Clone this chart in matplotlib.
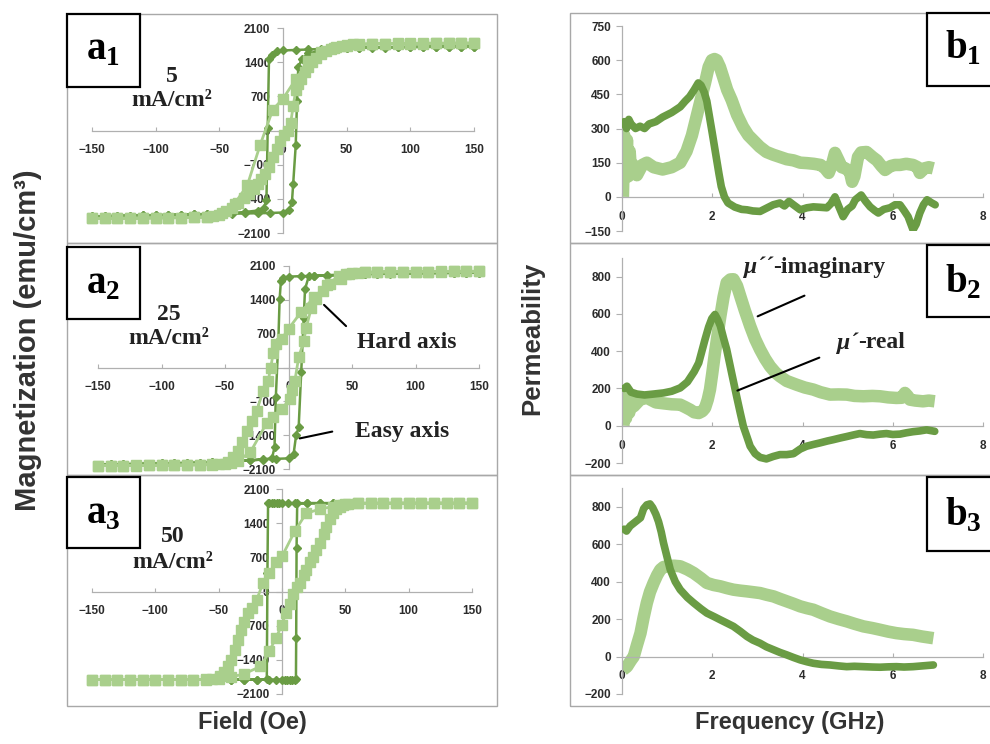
import matplotlib
matplotlib.use('Agg')
import matplotlib.pyplot as plt
from matplotlib.patches import Rectangle

plt.rcParams['font.family'] = ['Liberation Sans', 'DejaVu Sans']
plt.rcParams['mathtext.fontset'] = 'custom'
plt.rcParams['mathtext.rm'] = 'Liberation Serif'
plt.rcParams['mathtext.bf'] = 'Liberation Serif:bold'

DARK = '#6a9c44'
LIGHT = '#a9cf8c'
AXIS = '#b0b0b0'
TXT = '#2b2b2b'

# ---------------- hysteresis loops (Field in Oe, Magnetization in emu/cm3) ----------------
a1_easy_dn_h = [150, 140, 130, 120, 110, 100, 90, 80, 70, 60, 50, 40, 30, 20, 10, 0, -5, -9, -11, -12,
                -13, -15, -20, -30, -40, -50, -60, -70, -80, -90, -100, -110, -120, -130, -140, -150]
a1_easy_dn_m = [1720, 1720, 1715, 1715, 1710, 1710, 1705, 1700, 1700, 1695, 1690, 1680, 1670, 1660, 1650,
                1640, 1620, 1540, 1470, 60, -1430, -1580, -1640, -1670, -1690, -1700, -1710, -1720, -1725,
                -1730, -1735, -1740, -1745, -1750, -1755, -1760]
a1_easy_up_h = [-150, -140, -130, -120, -110, -100, -90, -80, -70, -60, -50, -40, -30, -20, -10, 0, 5, 7, 8,
                10, 11, 12, 15, 20, 30, 40, 50, 60, 70, 80, 90, 100, 110, 120, 130, 140, 150]
a1_easy_up_m = [-1760, -1755, -1750, -1745, -1740, -1735, -1730, -1725, -1720, -1715, -1710, -1705, -1700,
                -1695, -1690, -1680, -1620, -1475, -1090, -300, 600, 1300, 1475, 1580, 1640, 1670, 1690,
                1700, 1705, 1710, 1710, 1715, 1715, 1720, 1720, 1720, 1720]
a1_hard_dn_h = [150, 140, 130, 120, 110, 100, 90, 80, 70, 60, 50, 40, 30, 20, 10, 0, -8, -18, -28, -38, -48,
                -60, -70, -80, -90, -100, -110, -120, -130, -140, -150]
a1_hard_dn_m = [1790, 1790, 1785, 1785, 1780, 1780, 1780, 1775, 1770, 1760, 1740, 1700, 1600, 1420, 1050,
                650, 430, -300, -1120, -1500, -1700, -1770, -1780, -1785, -1790, -1790, -1795, -1795, -1800,
                -1800, -1800]
a1_hard_up_h = [-150, -140, -130, -120, -110, -100, -90, -80, -70, -60, -55, -50, -45, -40, -35, -31, -27,
                -23, -20, -17, -14, -11, -8, -5, -2, 1, 4, 6, 8, 10, 12, 14, 17, 20, 23, 26, 30, 34, 38, 42,
                46, 50, 55, 60, 70, 80, 90, 100, 110, 120, 130, 140, 150]
a1_hard_up_m = [-1800, -1800, -1800, -1795, -1795, -1790, -1790, -1785, -1780, -1770, -1760, -1730, -1650,
                -1580, -1480, -1390, -1300, -1200, -1100, -1000, -890, -750, -550, -380, -220, -100, 0, 150,
                500, 820, 950, 1050, 1190, 1300, 1400, 1480, 1560, 1620, 1670, 1710, 1740, 1760, 1770, 1775,
                1780, 1780, 1785, 1785, 1790, 1790, 1790, 1790, 1790]

a2_easy_dn_h = [150, 140, 130, 120, 110, 100, 90, 80, 70, 60, 50, 40, 30, 20, 10, 0, -4, -6, -7, -8, -10,
                -11, -13, -20, -30, -40, -50, -60, -70, -80, -90, -100, -110, -120, -130, -140, -150]
a2_easy_dn_m = [1960, 1960, 1955, 1955, 1950, 1950, 1945, 1940, 1935, 1930, 1920, 1910, 1900, 1895, 1890,
                1880, 1860, 1780, 1410, 550, -620, -1650, -1880, -1900, -1920, -1935, -1950, -1960, -1970,
                -1975, -1980, -1985, -1990, -1995, -2000, -2005, -2010]
a2_easy_up_h = [-150, -140, -130, -120, -110, -100, -90, -80, -70, -60, -50, -40, -30, -20, -10, 0, 4, 6, 8,
                10, 12, 13, 16, 20, 30, 40, 50, 60, 70, 80, 90, 100, 110, 120, 130, 140, 150]
a2_easy_up_m = [-2010, -2005, -2000, -1995, -1990, -1985, -1980, -1975, -1970, -1960, -1950, -1935, -1920,
                -1905, -1890, -1880, -1790, -1400, -1240, -100, 1030, 1620, 1890, 1900, 1910, 1920, 1930,
                1935, 1940, 1945, 1950, 1950, 1955, 1955, 1960, 1960, 1960]
a2_hard_dn_h = [150, 140, 130, 120, 110, 100, 90, 80, 70, 60, 50, 45, 40, 30, 20, 10, 0, -5, -10, -12, -14,
                -16, -20, -25, -29, -33, -37, -40, -44, -48, -55, -60, -70, -80, -90, -100, -110, -120,
                -130, -140, -150]
a2_hard_dn_m = [1990, 1990, 1990, 1985, 1985, 1985, 1980, 1980, 1975, 1970, 1960, 1930, 1900, 1700, 1450,
                1150, 800, 600, 480, 300, 0, -275, -482, -895, -1100, -1308, -1550, -1721, -1850, -1962,
                -2000, -2010, -2015, -2020, -2020, -2025, -2025, -2030, -2030, -2030, -2030]
a2_hard_up_h = [-150, -140, -130, -120, -110, -100, -90, -80, -70, -60, -50, -45, -40, -30, -17, -12, -5, 1,
                3, 5, 8, 12, 14, 18, 22, 27, 33, 41, 48, 55, 60, 70, 80, 90, 100, 110, 120, 130, 140, 150]
a2_hard_up_m = [-2030, -2030, -2030, -2025, -2025, -2020, -2020, -2015, -2010, -2005, -1995, -1980, -1930,
                -1750, -1140, -1030, -850, -654, -470, -275, 207, 551, 826, 1239, 1411, 1584, 1721, 1824,
                1928, 1960, 1970, 1975, 1980, 1980, 1985, 1985, 1990, 1990, 1990, 1990]

a3_easy_dn_h = [150, 140, 130, 120, 110, 100, 90, 80, 70, 60, 50, 40, 30, 20, 10, 5, 0, -2, -4, -6, -8, -10,
                -11, -11.5, -12, -20, -30, -40, -50, -60, -70, -80, -90, -100, -110, -120, -130, -140, -150]
a3_easy_dn_m = [1810, 1810, 1810, 1810, 1810, 1810, 1810, 1810, 1810, 1810, 1810, 1810, 1810, 1810, 1810,
                1810, 1810, 1810, 1810, 1810, 1810, 1810, 1805, 375, -1800, -1805, -1805, -1805, -1805,
                -1805, -1805, -1805, -1805, -1805, -1805, -1805, -1805, -1805, -1805]
a3_easy_up_h = [-150, -140, -130, -120, -110, -100, -90, -80, -70, -60, -50, -40, -30, -20, -10, -5, 0, 2, 4,
                6, 8, 10, 11, 11.2, 11.5, 12, 20, 30, 40, 50, 60, 70, 80, 90, 100, 110, 120, 130, 140, 150]
a3_easy_up_m = [-1805, -1805, -1805, -1805, -1805, -1805, -1805, -1805, -1805, -1805, -1805, -1805, -1805,
                -1805, -1805, -1805, -1805, -1805, -1805, -1805, -1805, -1805, -1800, -955, 886, 1805, 1810,
                1810, 1810, 1810, 1810, 1810, 1810, 1810, 1810, 1810, 1810, 1810, 1810, 1810]
a3_hard_dn_h = [150, 140, 130, 120, 110, 100, 90, 80, 70, 60, 50, 45, 40, 30, 19, 10, 0, -5, -10, -15, -20,
                -24, -27, -30, -32, -35, -37, -40, -43, -46, -49, -55, -60, -70, -80, -90, -100, -110, -120,
                -130, -140, -150]
a3_hard_dn_m = [1810, 1810, 1810, 1810, 1810, 1810, 1810, 1805, 1805, 1805, 1800, 1770, 1740, 1690, 1600,
                1230, 720, 600, 375, 170, -170, -330, -443, -620, -784, -1000, -1193, -1400, -1534, -1650,
                -1740, -1790, -1800, -1805, -1805, -1805, -1805, -1805, -1805, -1805, -1805, -1805]
a3_hard_up_h = [-150, -140, -130, -120, -110, -100, -90, -80, -70, -60, -50, -40, -30, -17, -10, -5, 0, 3, 6,
                9, 12, 14, 17, 19, 22, 24.5, 27, 30, 33, 35, 38, 40, 43, 45.5, 48, 52, 60, 70, 80, 90, 100,
                110, 120, 130, 140, 150]
a3_hard_up_m = [-1805, -1805, -1805, -1805, -1805, -1805, -1805, -1805, -1805, -1805, -1790, -1750, -1690,
                -1534, -1227, -960, -682, -443, -250, -50, 100, 170, 330, 443, 600, 716, 850, 989, 1180,
                1330, 1480, 1602, 1690, 1739, 1780, 1800, 1805, 1810, 1810, 1810, 1810, 1810, 1810, 1810,
                1810, 1810]

# ---------------- permeability spectra (GHz) ----------------
b1_real_f = [0.05, 0.1, 0.15, 0.2, 0.3, 0.4, 0.5, 0.6, 0.75, 0.9, 1.1, 1.29, 1.4, 1.5, 1.6, 1.69, 1.75, 1.82,
             1.88, 1.94, 2.0, 2.05, 2.1, 2.15, 2.2, 2.27, 2.35, 2.5, 2.65, 2.77, 2.9, 3.06, 3.2, 3.35, 3.5,
             3.6, 3.7, 3.8, 3.95, 4.1, 4.24, 4.4, 4.54, 4.63, 4.72, 4.8, 4.9, 5.0, 5.1, 5.17, 5.3, 5.4, 5.5,
             5.6, 5.68, 5.8, 5.94, 6.05, 6.16, 6.25, 6.34, 6.45, 6.52, 6.6, 6.68, 6.76, 6.85, 6.94]
b1_real = [330, 300, 340, 320, 300, 310, 300, 320, 330, 350, 370, 395, 420, 440, 470, 500, 490, 460, 420, 350,
           280, 220, 160, 100, 45, 0, -27, -45, -55, -57, -62, -64, -50, -35, -27, -40, -20, -35, -57, -48,
           -44, -46, -48, -30, 0, -40, -87, -55, -40, -13, 8, -20, -44, -60, -71, -55, -48, -35, -35, -60,
           -87, -145, -120, -71, -35, -13, -25, -35]
b1_imag_f = [0.02, 0.05, 0.08, 0.11, 0.14, 0.17, 0.2, 0.25, 0.33, 0.45, 0.55, 0.7, 0.9, 1.1, 1.29, 1.43, 1.55,
             1.65, 1.75, 1.84, 1.92, 1.99, 2.05, 2.1, 2.17, 2.24, 2.33, 2.43, 2.55, 2.68, 2.8, 2.9, 3.05, 3.2,
             3.35, 3.5, 3.65, 3.8, 3.95, 4.1, 4.25, 4.4, 4.5, 4.58, 4.65, 4.72, 4.8, 4.87, 4.95, 5.05, 5.1,
             5.15, 5.23, 5.3, 5.42, 5.55, 5.65, 5.75, 5.83, 5.95, 6.05, 6.16, 6.3, 6.45, 6.55, 6.6, 6.7, 6.8,
             6.9]
b1_imag = [0, 270, 120, 250, 90, 200, 110, 140, 95, 140, 150, 130, 120, 130, 150, 200, 270, 350, 430, 500,
           570, 600, 605, 600, 570, 527, 470, 425, 360, 307, 270, 250, 220, 197, 185, 175, 165, 160, 150, 148,
           145, 140, 125, 105, 140, 193, 160, 130, 125, 110, 66, 90, 175, 195, 197, 175, 160, 135, 118, 135,
           140, 140, 145, 140, 130, 105, 125, 130, 125]

b2_real_f = [0.05, 0.11, 0.2, 0.33, 0.5, 0.7, 0.92, 1.1, 1.29, 1.45, 1.6, 1.7, 1.84, 1.92, 1.99, 2.06, 2.12,
             2.18, 2.25, 2.32, 2.43, 2.54, 2.62, 2.69, 2.77, 2.84, 2.95, 3.06, 3.2, 3.35, 3.5, 3.65, 3.8, 3.95,
             4.09, 4.25, 4.39, 4.55, 4.68, 4.85, 4.98, 5.12, 5.27, 5.42, 5.57, 5.72, 5.86, 6.0, 6.16, 6.3,
             6.45, 6.6, 6.75, 6.93]
b2_real = [200, 212, 180, 170, 165, 170, 176, 185, 203, 235, 290, 337, 463, 530, 575, 597, 570, 535, 470, 409,
           283, 158, 70, -4, -60, -110, -150, -170, -178, -165, -155, -155, -150, -125, -110, -100, -92, -82,
           -75, -65, -58, -50, -42, -48, -50, -45, -42, -47, -45, -38, -32, -28, -22, -30]
b2_imag_f = [0.03, 0.06, 0.09, 0.12, 0.16, 0.2, 0.26, 0.4, 0.55, 0.75, 0.92, 1.1, 1.29, 1.4, 1.51, 1.6, 1.7,
             1.78, 1.84, 1.9, 1.95, 2.0, 2.06, 2.12, 2.18, 2.25, 2.32, 2.4, 2.47, 2.55, 2.62, 2.72, 2.84, 2.95,
             3.06, 3.17, 3.28, 3.4, 3.5, 3.65, 3.87, 4.05, 4.24, 4.4, 4.61, 4.8, 4.98, 5.15, 5.35, 5.55, 5.72,
             5.9, 6.08, 6.2, 6.27, 6.33, 6.38, 6.5, 6.67, 6.8, 6.93]
b2_imag = [0, 160, 40, 150, 70, 130, 104, 140, 150, 125, 120, 115, 113, 100, 86, 72, 68, 78, 95, 140, 194, 280,
           391, 490, 588, 690, 768, 785, 786, 750, 696, 620, 535, 465, 409, 360, 319, 285, 265, 240, 220, 205,
           194, 180, 167, 168, 167, 160, 158, 160, 158, 152, 149, 150, 176, 160, 140, 135, 131, 135, 131]

b3_real_f = [0.05, 0.1, 0.18, 0.3, 0.41, 0.48, 0.55, 0.62, 0.68, 0.75, 0.81, 0.87, 0.92, 1.0, 1.07, 1.18, 1.29,
             1.45, 1.59, 1.75, 1.88, 2.05, 2.18, 2.33, 2.47, 2.62, 2.77, 2.9, 3.06, 3.2, 3.36, 3.5, 3.65, 3.8,
             3.95, 4.1, 4.24, 4.42, 4.61, 4.8, 4.98, 5.15, 5.35, 5.55, 5.72, 5.9, 6.08, 6.25, 6.45, 6.65, 6.9]
b3_real = [680, 670, 697, 720, 741, 790, 810, 815, 795, 760, 720, 665, 607, 530, 464, 400, 357, 315, 286, 255,
           232, 212, 196, 178, 161, 135, 107, 88, 71, 52, 36, 22, 9, -5, -18, -28, -36, -42, -45, -50, -54,
           -52, -54, -56, -57, -55, -54, -56, -54, -50, -45]
b3_imag_f = [0.02, 0.11, 0.2, 0.26, 0.33, 0.41, 0.48, 0.55, 0.62, 0.7, 0.78, 0.85, 0.92, 1.0, 1.15, 1.29, 1.45,
             1.59, 1.75, 1.88, 2.03, 2.18, 2.33, 2.47, 2.62, 2.77, 2.9, 3.06, 3.2, 3.36, 3.5, 3.65, 3.8, 3.95,
             4.1, 4.24, 4.42, 4.61, 4.8, 4.98, 5.15, 5.35, 5.55, 5.72, 5.9, 6.08, 6.25, 6.45, 6.65, 6.9]
b3_imag = [-71, -54, -20, 0, 60, 125, 210, 286, 345, 393, 435, 464, 478, 482, 485, 482, 465, 446, 418, 393, 382,
           375, 365, 357, 352, 348, 344, 339, 330, 321, 308, 295, 282, 268, 258, 250, 232, 214, 200, 188, 175,
           161, 152, 143, 133, 125, 120, 116, 107, 98]

field_ticks = [-150, -100, -50, 0, 50, 100, 150]
mag_ticks = [-2100, -1400, -700, 0, 700, 1400, 2100]
freq_ticks = [0, 2, 4, 6, 8]
b1_ticks = [-150, 0, 150, 300, 450, 600, 750]
b23_ticks = [-200, 0, 200, 400, 600, 800]
currents = ['5', '25', '50']

W, H = 990, 744
fig = plt.figure(figsize=(W / 100, H / 100), dpi=100)


def fx(px):
    return px / W


def fy(py):
    return 1 - py / H


def axes_px(x0, x1, y0, y1):
    return fig.add_axes([fx(x0), fy(y1), (x1 - x0) / W, (y1 - y0) / H])


def frame(x0, y0, x1, y1, color, lw, fill=False):
    fig.patches.append(Rectangle((fx(x0), fy(y1)), (x1 - x0) / W, (y1 - y0) / H,
                                 transform=fig.transFigure, fill=fill, facecolor='white',
                                 edgecolor=color, lw=lw, zorder=3))


def style(ax, xlim, ylim, xt, yt, ypad):
    ax.set_xlim(xlim)
    ax.set_ylim(ylim)
    ax.set_xticks(xt)
    ax.set_yticks(yt)
    ax.patch.set_visible(False)
    for s in ['top', 'right']:
        ax.spines[s].set_visible(False)
    ax.spines['left'].set_position(('data', 0))
    ax.spines['bottom'].set_position(('data', 0))
    for s in ['left', 'bottom']:
        ax.spines[s].set_color(AXIS)
        ax.spines[s].set_linewidth(0.9)
    ax.tick_params(axis='y', direction='out', length=4, color=AXIS, pad=ypad)
    ax.tick_params(axis='x', direction='in', length=3, color=AXIS, pad=10)
    for lab in ax.get_xticklabels() + ax.get_yticklabels():
        lab.set_fontsize(8.5)
        lab.set_fontweight('bold')
        lab.set_color(TXT)


# ---- left column: hysteresis loops ----
loops = [
    (a1_easy_dn_h + a1_easy_up_h, a1_easy_dn_m + a1_easy_up_m,
     a1_hard_dn_h + a1_hard_up_h, a1_hard_dn_m + a1_hard_up_m),
    (a2_easy_dn_h + a2_easy_up_h, a2_easy_dn_m + a2_easy_up_m,
     a2_hard_dn_h + a2_hard_up_h, a2_hard_dn_m + a2_hard_up_m),
    (a3_easy_dn_h + a3_easy_up_h, a3_easy_dn_m + a3_easy_up_m,
     a3_hard_dn_h + a3_hard_up_h, a3_hard_dn_m + a3_hard_up_m),
]
a_pos = [(92, 474, 28, 233), (98, 479, 266, 469), (92, 472, 489, 694)]
a_frames = [(14, 243), (243, 475), (475, 706)]
a_boxes = [(14, 87), (247, 319), (477, 548)]
a_label_y = [50, 284, 514]
cur_y = [(77, 101), (315, 339), (537, 562)]
cur_x = [172, 169, 173]

a_axes = []
for i, (eh, em, hh, hm) in enumerate(loops):
    ax = axes_px(*a_pos[i])
    ax.plot(eh, em, color=DARK, lw=1.8, marker='D', ms=4, mec=DARK, clip_on=False, zorder=3)
    ax.plot(hh, hm, color=LIGHT, lw=2, marker='s', ms=6.5, mec=LIGHT, clip_on=False, zorder=4)
    style(ax, (-150, 150), (-2100, 2100), field_ticks, mag_ticks, 5)
    a_axes.append(ax)
    frame(67, a_frames[i][0], 497, a_frames[i][1], '#a8a8a8', 1.0)
    frame(67, a_boxes[i][0], 140, a_boxes[i][1], 'black', 1.6, fill=True)
    fig.text(fx(103), fy(a_label_y[i]), r'$\mathbf{a}_\mathbf{%d}$' % (i + 1), fontsize=28,
             ha='center', va='center', zorder=5)
    fig.text(fx(cur_x[i]), fy(cur_y[i][0]), currents[i], family='Liberation Serif', fontweight='bold',
             fontsize=17, ha='center', va='center', color='#222222')
    fig.text(fx(cur_x[i]), fy(cur_y[i][1]), 'mA/cm²', family='Liberation Serif', fontweight='bold',
             fontsize=17, ha='center', va='center', color='#222222')

ax2 = a_axes[1]
ax2.annotate('', xy=(26.4, 1335), xytext=(46.9, 817),
             arrowprops=dict(arrowstyle='-', color='black', lw=1.5))
ax2.annotate('', xy=(6.7, -1479), xytext=(36.6, -1314),
             arrowprops=dict(arrowstyle='-', color='black', lw=1.5))
fig.text(fx(407), fy(343), 'Hard axis', family='Liberation Serif', fontweight='bold', fontsize=17,
         ha='center', va='center', color='#222222')
fig.text(fx(402), fy(431), 'Easy axis', family='Liberation Serif', fontweight='bold', fontsize=17,
         ha='center', va='center', color='#222222')

# ---- right column: permeability spectra ----
spectra = [(b1_real_f, b1_real, b1_imag_f, b1_imag), (b2_real_f, b2_real, b2_imag_f, b2_imag),
           (b3_real_f, b3_real, b3_imag_f, b3_imag)]
b_pos = [(622, 983, 26, 231), (622, 983, 258, 463), (622, 983, 488, 694)]
b_lims = [(-150, 750), (-200, 900), (-200, 900)]
b_ticks = [b1_ticks, b23_ticks, b23_ticks]
b_frames = [(13, 243), (243, 475), (475, 706)]
b_boxes = [(13, 86), (245, 317), (477, 551)]
b_label_y = [48, 282, 515]

b_axes = []
for i, (rf, rv, jf, jv) in enumerate(spectra):
    ax = axes_px(*b_pos[i])
    ax.plot(rf, rv, color=DARK, lw=5.5, solid_joinstyle='round', solid_capstyle='round', zorder=3)
    ax.plot(jf, jv, color=LIGHT, lw=9, solid_joinstyle='round', solid_capstyle='butt', zorder=2)
    style(ax, (0, 8), b_lims[i], freq_ticks, b_ticks[i], 4)
    b_axes.append(ax)
    frame(570, b_frames[i][0], 1000, b_frames[i][1], '#a8a8a8', 1.0)
    frame(927, b_boxes[i][0], 1000, b_boxes[i][1], 'black', 1.6, fill=True)
    fig.text(fx(963), fy(b_label_y[i]), r'$\mathbf{b}_\mathbf{%d}$' % (i + 1), fontsize=28,
             ha='center', va='center', zorder=5)

bx = b_axes[1]
bx.annotate('', xy=(2.95, 581), xytext=(4.10, 704), arrowprops=dict(arrowstyle='-', color='black', lw=1.5))
bx.annotate('', xy=(2.50, 183), xytext=(4.43, 371), arrowprops=dict(arrowstyle='-', color='black', lw=1.5))
fig.text(fx(773), fy(267), 'μ´´', family='Liberation Serif', fontweight='bold', fontstyle='italic',
         fontsize=17, ha='right', va='center', color='#222222')
fig.text(fx(773), fy(267), '-imaginary', family='Liberation Serif', fontweight='bold', fontsize=17,
         ha='left', va='center', color='#222222')
fig.text(fx(858), fy(343), 'μ´', family='Liberation Serif', fontweight='bold', fontstyle='italic',
         fontsize=17, ha='right', va='center', color='#222222')
fig.text(fx(858), fy(343), '-real', family='Liberation Serif', fontweight='bold', fontsize=17,
         ha='left', va='center', color='#222222')

# ---- axis titles ----
fig.text(fx(28), fy(340), 'Magnetization (emu/cm³)', rotation=90, fontsize=21, fontweight='bold',
         ha='center', va='center', color='#333333')
fig.text(fx(532), fy(338), 'Permeability', rotation=90, fontsize=18.5, fontweight='bold',
         ha='center', va='center', color='#333333')
fig.text(fx(252), fy(723), 'Field (Oe)', fontsize=17, fontweight='bold', ha='center', va='center',
         color='#333333')
fig.text(fx(790), fy(723), 'Frequency (GHz)', fontsize=17, fontweight='bold', ha='center', va='center',
         color='#333333')

fig.savefig('out.png', dpi=100, facecolor='white')
